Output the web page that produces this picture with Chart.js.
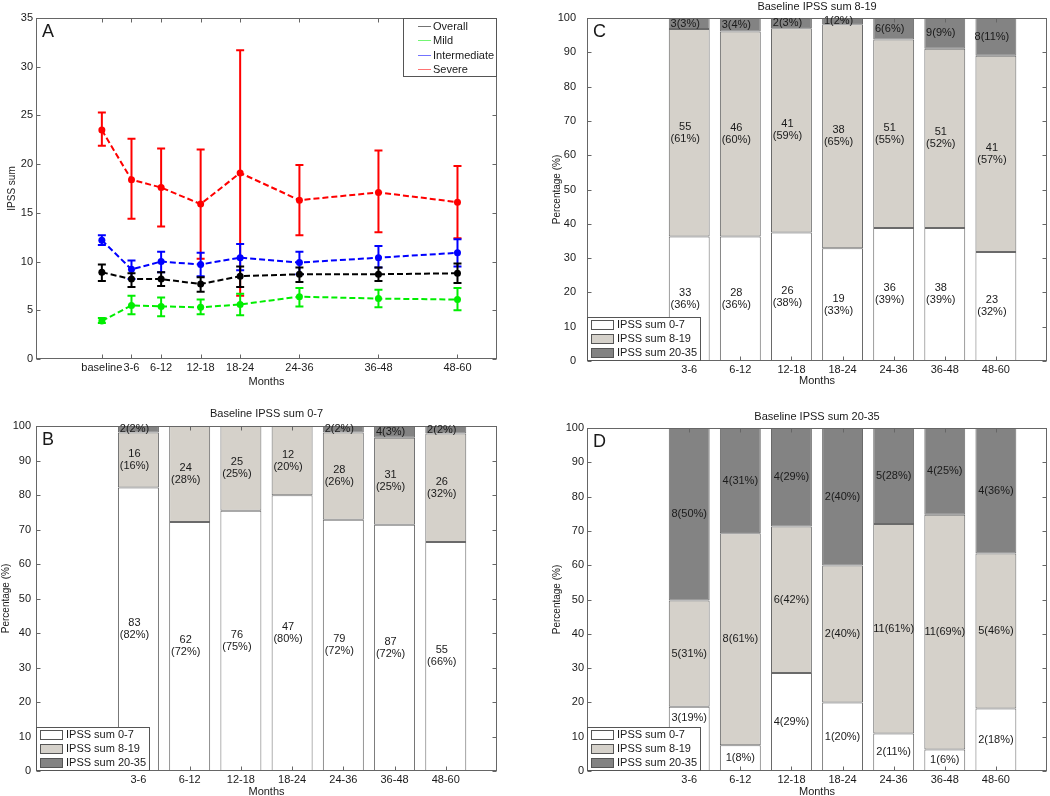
<!DOCTYPE html>
<html>
<head>
<meta charset="utf-8">
<script src="https://cdn.jsdelivr.net/npm/chart.js@4.4.0/dist/chart.umd.min.js"></script>
<style>
  html, body { margin: 0; padding: 0; background: #fff; width: 1050px; height: 796px; overflow: hidden; }
  canvas { position: absolute; }
  #panel-a { left: 0; top: 0; }
  #panel-c { left: 525px; top: 0; }
  #panel-b { left: 0; top: 392px; }
  #panel-d { left: 525px; top: 392px; }
</style>
</head>
<body>
<canvas id="panel-a" width="525" height="392"></canvas>
<canvas id="panel-c" width="525" height="392"></canvas>
<canvas id="panel-b" width="525" height="420"></canvas>
<canvas id="panel-d" width="525" height="420"></canvas>
<script>
const FONT = '"Liberation Sans", Arial, Helvetica, sans-serif';
const INK = '#1a1a1a';

// ---- panel A: mean IPSS sum per follow-up period ----
const periods = ['baseline', '3-6', '6-12', '12-18', '18-24', '24-36', '36-48', '48-60'];
const periodMonths = [0, 4.5, 9, 15, 21, 30, 42, 54];
const seriesNames = ['Overall', 'Mild', 'Intermediate', 'Severe'];

const overallMean = [8.9, 8.2, 8.2, 7.7, 8.5, 8.7, 8.7, 8.8];
const overallLo   = [8.0, 7.4, 7.5, 6.9, 7.4, 7.9, 8.0, 7.8];
const overallHi   = [9.7, 8.8, 8.9, 8.4, 9.5, 9.4, 9.4, 9.8];

const mildMean = [3.9, 5.5, 5.4, 5.3, 5.6, 6.4, 6.2, 6.1];
const mildLo   = [3.7, 4.6, 4.4, 4.6, 4.5, 5.4, 5.3, 5.0];
const mildHi   = [4.2, 6.5, 6.3, 6.1, 6.7, 7.3, 7.1, 7.3];

const interMean = [12.2, 9.2, 10.0, 9.7, 10.4, 9.9, 10.4, 10.9];
const interLo   = [11.7, 8.2, 8.9, 8.5, 9.1, 8.7, 9.4, 9.5];
const interHi   = [12.7, 10.1, 11.0, 10.9, 11.8, 11.0, 11.6, 12.3];

const severeMean = [23.5, 18.4, 17.6, 15.9, 19.1, 16.3, 17.1, 16.1];
const severeLo   = [21.9, 14.4, 13.6, 10.3, 6.5, 12.7, 13.0, 12.4];
const severeHi   = [25.3, 22.6, 21.6, 21.5, 31.7, 19.9, 21.4, 19.8];

// ---- panels B-D: distribution of IPSS group per period (%) ----
const barSlots = [2, 3, 4, 5, 6, 7, 8];
const barPeriods = ['3-6', '6-12', '12-18', '18-24', '24-36', '36-48', '48-60'];
const groupNames = ['IPSS sum 0-7', 'IPSS sum 8-19', 'IPSS sum 20-35'];

const bMild  = [82.2, 72.2, 75.4, 79.9, 72.8, 71.4, 66.4];
const bInter = [15.9, 27.8, 24.6, 20.1, 25.3, 25.2, 31.4];
const bSev   = [1.9, 0, 0, 0, 1.9, 3.4, 2.2];
const bMildTxt  = ['83\n(82%)', '62\n(72%)', '76\n(75%)', '47\n(80%)', '79\n(72%)', '87\n(72%)', '55\n(66%)'];
const bInterTxt = ['16\n(16%)', '24\n(28%)', '25\n(25%)', '12\n(20%)', '28\n(26%)', '31\n(25%)', '26\n(32%)'];
const bSevTxt   = ['2(2%)', '', '', '', '2(2%)', '4(3%)', '2(2%)'];

const cMild  = [36.3, 36.3, 37.5, 32.9, 38.8, 38.8, 31.8];
const cInter = [60.5, 59.8, 59.5, 65.3, 54.9, 52.2, 57.2];
const cSev   = [3.2, 3.9, 3.0, 1.8, 6.3, 9.0, 11.0];
const cMildTxt  = ['33\n(36%)', '28\n(36%)', '26\n(38%)', '19\n(33%)', '36\n(39%)', '38\n(39%)', '23\n(32%)'];
const cInterTxt = ['55\n(61%)', '46\n(60%)', '41\n(59%)', '38\n(65%)', '51\n(55%)', '51\n(52%)', '41\n(57%)'];
const cSevTxt   = ['3(3%)', '3(4%)', '2(3%)', '1(2%)', '6(6%)', '9(9%)', '8(11%)'];

const dMild  = [18.7, 7.5, 28.6, 20.0, 10.9, 6.3, 18.2];
const dInter = [31.0, 61.8, 42.7, 39.9, 61.1, 68.4, 45.2];
const dSev   = [50.3, 30.7, 28.7, 40.1, 28.0, 25.3, 36.6];
const dMildTxt  = ['3(19%)', '1(8%)', '4(29%)', '1(20%)', '2(11%)', '1(6%)', '2(18%)'];
const dInterTxt = ['5(31%)', '8(61%)', '6(42%)', '2(40%)', '11(61%)', '11(69%)', '5(46%)'];
const dSevTxt   = ['8(50%)', '4(31%)', '4(29%)', '2(40%)', '5(28%)', '4(25%)', '4(36%)'];

const tickFont = { family: FONT, size: 11 };
const LEG_W = 114, LEG_H = 44;

// box around the axes with small inward ticks on all four sides (matlab look)
const frame = {
  id: 'frame',
  afterDatasetsDraw(chart) {
    const { ctx, chartArea: a, scales } = chart;
    const L = Math.round(a.left) + 0.5, R = Math.round(a.right) - 0.5;
    const T = Math.round(a.top) + 0.5, B = Math.round(a.bottom) - 0.5;
    ctx.save();
    ctx.strokeStyle = '#666';
    ctx.lineWidth = 1;
    ctx.strokeRect(L, T, R - L, B - T);
    ctx.beginPath();
    scales.y.ticks.forEach(t => {
      const py = Math.round(scales.y.getPixelForValue(t.value)) + 0.5;
      ctx.moveTo(L, py); ctx.lineTo(L + 4, py);
      ctx.moveTo(R, py); ctx.lineTo(R - 4, py);
    });
    scales.x.ticks.forEach(t => {
      const px = Math.round(scales.x.getPixelForValue(t.value)) + 0.5;
      ctx.moveTo(px, B); ctx.lineTo(px, B - 4);
      ctx.moveTo(px, T); ctx.lineTo(px, T + 4);
    });
    ctx.stroke();
    ctx.restore();
  }
};

// panel letter and optional title above the axes
const panelText = {
  id: 'panelText',
  afterDraw(chart, args, opts) {
    const { ctx, chartArea: a } = chart;
    ctx.save();
    ctx.fillStyle = INK;
    ctx.font = '18px ' + FONT;
    ctx.textAlign = 'left';
    ctx.textBaseline = 'alphabetic';
    ctx.fillText(opts.letter, a.left + 6, a.top + 19);
    if (opts.title) {
      ctx.font = '11px ' + FONT;
      ctx.textAlign = 'center';
      ctx.textBaseline = 'middle';
      ctx.fillText(opts.title, (a.left + a.right) / 2, opts.titleY);
    }
    ctx.restore();
  }
};

const errorBars = {
  id: 'errorBars',
  afterDatasetDraw(chart, args) {
    const ds = chart.data.datasets[args.index];
    const y = chart.scales.y;
    const ctx = chart.ctx;
    ctx.save();
    ctx.strokeStyle = ds.borderColor;
    ctx.lineWidth = 2;
    ctx.beginPath();
    args.meta.data.forEach((pt, i) => {
      const top = y.getPixelForValue(ds.hi[i]);
      const bot = y.getPixelForValue(ds.lo[i]);
      ctx.moveTo(pt.x, top); ctx.lineTo(pt.x, bot);
      ctx.moveTo(pt.x - 4, top); ctx.lineTo(pt.x + 4, top);
      ctx.moveTo(pt.x - 4, bot); ctx.lineTo(pt.x + 4, bot);
    });
    ctx.stroke();
    ctx.restore();
  }
};

const lineLegend = {
  id: 'lineLegend',
  afterDraw(chart) {
    const { ctx, chartArea: a } = chart;
    const w = 94, h = 59, x0 = a.right - w, y0 = a.top;
    ctx.save();
    ctx.fillStyle = '#fff';
    ctx.fillRect(x0, y0, w, h);
    ctx.strokeStyle = '#555';
    ctx.lineWidth = 1;
    ctx.strokeRect(Math.round(x0) + 0.5, Math.round(y0) + 0.5, w - 1, h - 1);
    ctx.font = '11px ' + FONT;
    ctx.textBaseline = 'middle';
    chart.data.datasets.forEach((ds, i) => {
      const yy = Math.round(y0 + 8 + i * 14.3) + 0.5;
      ctx.globalAlpha = 0.55;
      ctx.strokeStyle = ds.borderColor;
      ctx.beginPath(); ctx.moveTo(x0 + 15, yy); ctx.lineTo(x0 + 28, yy); ctx.stroke();
      ctx.globalAlpha = 1;
      ctx.fillStyle = INK;
      ctx.fillText(ds.label, x0 + 30, yy);
    });
    ctx.restore();
  }
};

// segment labels, centred in each stacked piece; pushed above the legend box if they'd hide under it
const barLabels = {
  id: 'barLabels',
  afterDatasetsDraw(chart, args, opts) {
    const { ctx, chartArea: a } = chart;
    const legTop = a.bottom - LEG_H, legRight = a.left + LEG_W;
    ctx.save();
    ctx.font = '11px ' + FONT;
    ctx.fillStyle = INK;
    ctx.textAlign = 'center';
    ctx.textBaseline = 'middle';
    chart.data.datasets.forEach((ds, di) => {
      chart.getDatasetMeta(di).data.forEach((bar, i) => {
        const txt = ds.txt[i];
        if (!txt) return;
        const lines = txt.split('\n');
        const x = bar.x + opts.dx;
        let cy = (bar.y + bar.base) / 2 - (lines.length - 1) * 6;
        const half = ctx.measureText(lines[0]).width / 2;
        if (x - half < legRight && cy + lines.length * 12 - 6 > legTop) cy = legTop - 9;
        lines.forEach((ln, k) => ctx.fillText(ln, x, cy + k * 12));
      });
    });
    ctx.restore();
  }
};

const boxLegend = {
  id: 'boxLegend',
  afterDraw(chart) {
    const { ctx, chartArea: a } = chart;
    const x0 = Math.round(a.left), y0 = Math.round(a.bottom) - LEG_H;
    ctx.save();
    ctx.fillStyle = '#fff';
    ctx.fillRect(x0, y0, LEG_W, LEG_H);
    ctx.strokeStyle = '#555';
    ctx.lineWidth = 1;
    ctx.strokeRect(x0 + 0.5, y0 + 0.5, LEG_W - 1, LEG_H - 1);
    ctx.font = '11px ' + FONT;
    ctx.textBaseline = 'middle';
    chart.data.datasets.forEach((ds, i) => {
      const yy = y0 + 8.3 + i * 13.7;
      ctx.fillStyle = ds.backgroundColor;
      ctx.fillRect(x0 + 4, Math.round(yy - 5), 23, 10);
      ctx.strokeStyle = '#555';
      ctx.strokeRect(x0 + 4.5, Math.round(yy - 5) + 0.5, 22, 9);
      ctx.fillStyle = INK;
      ctx.fillText(ds.label, x0 + 30, yy);
    });
    ctx.restore();
  }
};

function lineSeries(name, color, mean, lo, hi) {
  return {
    label: name,
    data: periodMonths.map((m, i) => ({ x: m, y: mean[i] })),
    lo, hi,
    borderColor: color,
    backgroundColor: color,
    borderWidth: 2,
    borderDash: [6, 3],
    pointRadius: 3.5,
    pointBorderWidth: 0,
    tension: 0
  };
}

const noGrid = { display: false, drawTicks: false };

new Chart(document.getElementById('panel-a'), {
  type: 'line',
  data: {
    datasets: [
      lineSeries(seriesNames[0], '#000000', overallMean, overallLo, overallHi),
      lineSeries(seriesNames[1], '#00ee00', mildMean, mildLo, mildHi),
      lineSeries(seriesNames[2], '#0000ff', interMean, interLo, interHi),
      lineSeries(seriesNames[3], '#ff0000', severeMean, severeLo, severeHi)
    ]
  },
  options: {
    responsive: false,
    animation: false,
    events: [],
    layout: { padding: { left: 0, top: 18, right: 28, bottom: 0 } },
    scales: {
      x: {
        type: 'linear', min: -10, max: 60, offset: false,
        grid: noGrid, border: { display: false },
        afterBuildTicks: s => { s.ticks = periodMonths.map(v => ({ value: v })); },
        afterFit: s => { s.height = 33; },
        ticks: { autoSkip: false, maxRotation: 0, padding: 2, color: INK, font: tickFont,
                 callback: (v, i) => periods[i] },
        title: { display: true, text: 'Months', color: INK, font: tickFont, padding: { top: 0, bottom: 3 } }
      },
      y: {
        min: 0, max: 35,
        grid: noGrid, border: { display: false },
        afterFit: s => { s.width = 36; },
        ticks: { stepSize: 5, padding: 3, color: INK, font: tickFont },
        title: { display: true, text: 'IPSS sum', color: INK, font: { family: FONT, size: 10 }, padding: { top: 6, bottom: 0 } }
      }
    },
    plugins: {
      legend: { display: false },
      tooltip: { enabled: false },
      panelText: { letter: 'A' }
    }
  },
  plugins: [frame, errorBars, panelText, lineLegend]
});

function barPanel(id, cfg) {
  const part = (vals, i, color, txt) => ({
    label: groupNames[i],
    data: barSlots.map((s, k) => ({ x: s, y: vals[k] })),
    backgroundColor: color,
    txt
  });
  new Chart(document.getElementById(id), {
    type: 'bar',
    data: {
      datasets: [
        part(cfg.mild, 0, '#ffffff', cfg.mildTxt),
        part(cfg.inter, 1, '#d5d1ca', cfg.interTxt),
        part(cfg.sev, 2, '#838383', cfg.sevTxt)
      ]
    },
    options: {
      responsive: false,
      animation: false,
      events: [],
      layout: { padding: { left: 0, top: cfg.top, right: cfg.right, bottom: 0 } },
      datasets: {
        bar: { borderColor: '#6a6a6a', borderWidth: 1, borderSkipped: false,
               barPercentage: 0.8, categoryPercentage: 1 }
      },
      scales: {
        x: {
          type: 'linear', min: 0, max: 9, offset: false, stacked: true,
          grid: noGrid, border: { display: false },
          afterBuildTicks: s => { s.ticks = barSlots.map(v => ({ value: v })); },
          afterFit: s => { s.height = cfg.xh; },
          ticks: { autoSkip: false, maxRotation: 0, padding: 2, color: INK, font: tickFont,
                   callback: (v, i) => barPeriods[i] },
          title: { display: true, text: 'Months', color: INK, font: tickFont, padding: { top: 0, bottom: cfg.monthsPad } }
        },
        y: {
          min: 0, max: 100, stacked: true,
          grid: noGrid, border: { display: false },
          afterFit: s => { s.width = cfg.yw; },
          ticks: { stepSize: 10, padding: cfg.tickPad, color: INK, font: tickFont },
          title: { display: true, text: 'Percentage (%)', color: INK, font: { family: FONT, size: 10 },
                   padding: { top: cfg.yTitlePad, bottom: 0 } }
        }
      },
      plugins: {
        legend: { display: false },
        tooltip: { enabled: false },
        barLabels: { dx: cfg.dx },
        panelText: { letter: cfg.letter, title: cfg.title, titleY: cfg.titleY }
      }
    },
    plugins: [frame, barLabels, panelText, boxLegend]
  });
}

barPanel('panel-c', {
  letter: 'C', title: 'Baseline IPSS sum 8-19', titleY: 6.5,
  mild: cMild, inter: cInter, sev: cSev, mildTxt: cMildTxt, interTxt: cInterTxt, sevTxt: cSevTxt,
  top: 18, right: 3, yw: 62, xh: 31, tickPad: 11, yTitlePad: 26, monthsPad: 4, dx: -4
});

barPanel('panel-b', {
  letter: 'B', title: 'Baseline IPSS sum 0-7', titleY: 21.5,
  mild: bMild, inter: bInter, sev: bSev, mildTxt: bMildTxt, interTxt: bInterTxt, sevTxt: bSevTxt,
  top: 34, right: 28, yw: 36, xh: 41, tickPad: 5, yTitlePad: 0, monthsPad: 13, dx: -4
});

barPanel('panel-d', {
  letter: 'D', title: 'Baseline IPSS sum 20-35', titleY: 25,
  mild: dMild, inter: dInter, sev: dSev, mildTxt: dMildTxt, interTxt: dInterTxt, sevTxt: dSevTxt,
  top: 36, right: 3, yw: 62, xh: 41, tickPad: 3, yTitlePad: 26, monthsPad: 13, dx: 0
});
</script>
</body>
</html>
